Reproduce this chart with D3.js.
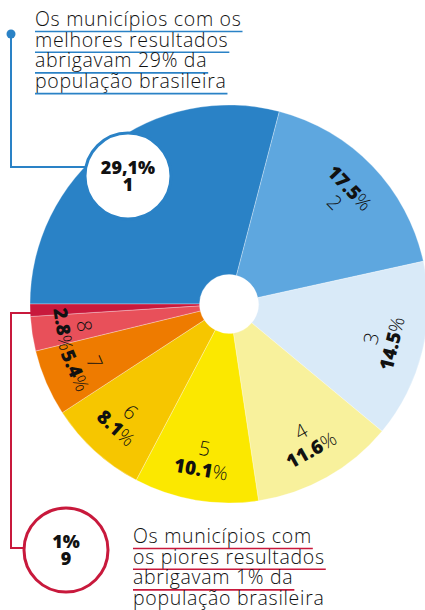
<!DOCTYPE html>
<head>
  <meta charset="utf-8">
  <script src="https://d3js.org/d3.v7.min.js"></script>
  <style>
    body { margin:0; background:#fff; }
    text { font-family: 'Open Sans', sans-serif; fill: #111; }
    .light { font-weight: 300; }
    .bold { font-weight: 800; }
    .note { font-size: 19.5px; letter-spacing: 0.7px; }
  </style>
</head>
<body>
<script>
  // data
  var groups = ["1", "2", "3", "4", "5", "6", "7", "8", "9"];
  var shares = [29.1, 17.5, 14.5, 11.6, 10.1, 8.1, 5.4, 2.8, 1];
  var shareLabels = ["29,1", "17.5", "14.5", "11.6", "10.1", "8.1", "5.4", "2.8", "1"];
  var colors = ["#2a82c6", "#5ea7df", "#d9eaf8", "#f8f19c", "#fbe800", "#f6c600", "#ee7b00", "#e8505a", "#c8193c"];
  var topNote = ["Os municípios com os", "melhores resultados", "abrigavam 29% da", "população brasileira"];
  var bottomNote = ["Os municípios com", "os piores resultados", "abrigavam 1% da", "população brasileira"];

  var width = 425, height = 610;
  var cx = 229, cy = 304, outerR = 199, innerR = 29.5, labelR = 157;

  var svg = d3.select("body").append("svg")
    .attr("width", width)
    .attr("height", height);

  var data = groups.map((g, i) => ({group: g, share: shares[i], label: shareLabels[i], color: colors[i]}));

  var pie = d3.pie()
    .sort(null)
    .value(d => d.share)
    .startAngle(-Math.PI / 2)
    .endAngle(3 * Math.PI / 2);

  var arc = d3.arc()
    .innerRadius(innerR)
    .outerRadius(outerR);

  var arcs = pie(data);

  var g = svg.append("g")
    .attr("transform", "translate(" + [cx, cy] + ")");

  g.selectAll("path")
    .data(arcs)
    .enter().append("path")
      .attr("d", arc)
      .style("fill", d => d.data.color)
      .style("stroke", "#fff")
      .style("stroke-opacity", 0.5)
      .style("stroke-width", 0.6);

  // in-slice labels: index near the centre, share further out
  var labels = g.selectAll("g.slice-label")
    .data(arcs.filter(d => d.index > 0 && d.index < 8))
    .enter().append("g")
      .attr("class", "slice-label")
      .attr("transform", function(d) {
        var a = (d.startAngle + d.endAngle) / 2;
        var deg = a * 180 / Math.PI;
        var rot = (deg > 90 && deg < 270) ? deg - 180 : deg;
        d.flip = (deg > 90 && deg < 270);
        return "translate(" + [labelR * Math.sin(a), -labelR * Math.cos(a)] + ") rotate(" + rot + ")";
      });

  labels.append("text")
    .attr("class", "light")
    .attr("text-anchor", "middle")
    .attr("y", d => d.flip ? -3.5 : 17.5)
    .style("font-size", "20px")
    .text(d => d.data.group);

  var pct = labels.append("text")
    .attr("text-anchor", "middle")
    .attr("y", d => d.flip ? 17.5 : -3.5)
    .style("font-size", "19px");
  pct.append("tspan").attr("class", "bold").text(d => d.data.label);
  pct.append("tspan").attr("class", "light").text("%");

  // callout notes
  function note(lines, x, y0, colour, underlineCount) {
    var t = svg.append("g");
    lines.forEach(function(line, i) {
      var txt = t.append("text")
        .attr("class", "light note")
        .attr("x", x)
        .attr("y", y0 + i * 20.7)
        .text(line);
      if (i < underlineCount) {
        var w = txt.node().getComputedTextLength();
        t.append("line")
          .attr("x1", x)
          .attr("x2", x + w + 1)
          .attr("y1", y0 + i * 20.7 + 5.5)
          .attr("y2", y0 + i * 20.7 + 5.5)
          .style("stroke", colour)
          .style("stroke-width", 1.6);
      }
    });
  }

  var blue = colors[0], red = colors[8];

  // top callout (group 1)
  svg.append("path")
    .attr("d", "M11,34 V167 H90")
    .style("fill", "none")
    .style("stroke", blue)
    .style("stroke-width", 2);
  svg.append("circle")
    .attr("cx", 11).attr("cy", 34).attr("r", 4.5)
    .style("fill", blue);
  note(topNote, 35, 26, blue, 4);

  // bottom callout (group 9)
  svg.append("path")
    .attr("d", "M31,313 H11 V548 H26")
    .style("fill", "none")
    .style("stroke", red)
    .style("stroke-width", 2);
  note(bottomNote, 133, 543, red, 3);

  function badge(x, y, r, colour, d) {
    svg.append("circle")
      .attr("cx", x).attr("cy", y).attr("r", r)
      .style("fill", "#fff")
      .style("stroke", colour)
      .style("stroke-width", 3);
    svg.append("text")
      .attr("class", "bold")
      .attr("text-anchor", "middle")
      .attr("x", x).attr("y", y - 2)
      .style("font-size", "18px")
      .text(d.label + "%");
    svg.append("text")
      .attr("class", "bold")
      .attr("text-anchor", "middle")
      .attr("x", x).attr("y", y + 15)
      .style("font-size", "18px")
      .text(d.group);
  }

  badge(128, 176, 43, blue, data[0]);
  badge(66, 550, 42, red, data[8]);
</script>
</body>
